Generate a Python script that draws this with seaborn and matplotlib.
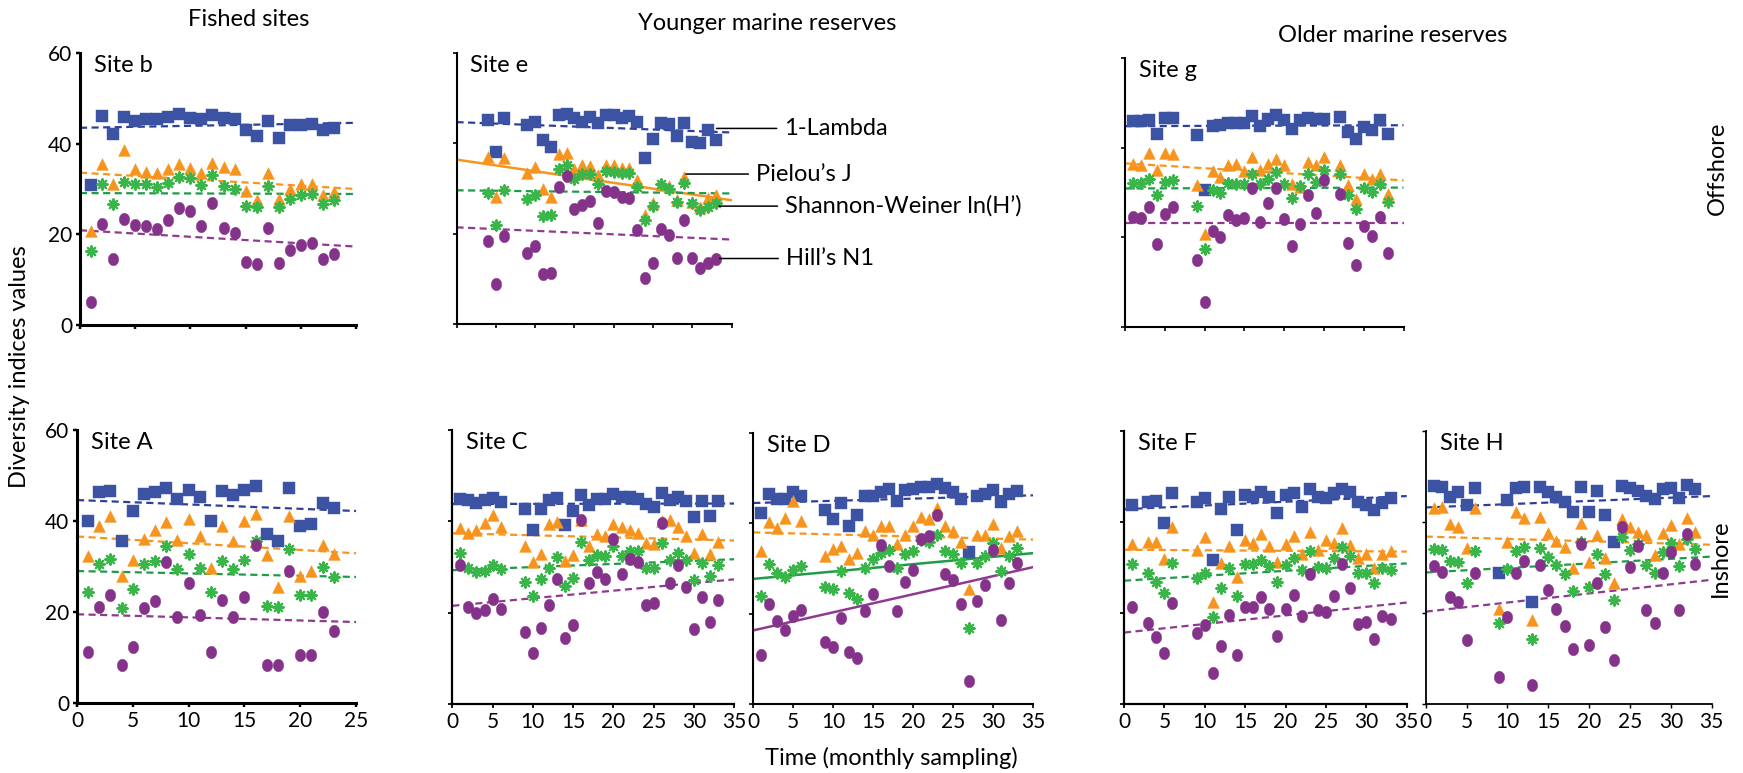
import numpy as np
import matplotlib
matplotlib.use("Agg")
import matplotlib.pyplot as plt
import seaborn as sns
from matplotlib.path import Path

# ---------------- data ----------------
series_names = ["1-Lambda", "Pielou\u2019s J", "Shannon-Weiner ln(H\u2019)", "Hill\u2019s N1"]

# Site b (fished, offshore)
b_x = [1, 2, 3, 4, 5, 6, 7, 8, 9, 10, 11, 12, 13, 14, 15, 16, 17, 18, 19, 20, 21, 22, 23]
b_lambda = [30.8, 46.0, 42.1, 45.9, 45.0, 45.5, 45.4, 45.9, 46.5, 45.7, 45.5, 46.3, 45.7, 45.5, 43.1, 41.6, 45.0, 41.3, 44.1, 44.1, 44.4, 43.1, 43.5]
b_pielou = [20.7, 35.5, 31.0, 38.7, 34.4, 33.8, 33.6, 34.5, 35.6, 34.7, 33.6, 35.8, 34.9, 34.4, 29.5, 27.5, 33.6, 27.9, 29.9, 31.1, 31.2, 28.6, 29.4]
b_shannon = [16.4, 31.1, 26.7, 31.6, 31.1, 31.0, 30.5, 31.4, 32.7, 32.5, 30.8, 33.0, 30.6, 30.1, 26.2, 26.1, 30.7, 26.1, 27.9, 28.6, 28.9, 26.8, 27.5]
b_hill = [5.1, 22.2, 14.5, 23.3, 22.0, 21.9, 21.1, 23.1, 25.9, 25.2, 21.8, 26.9, 21.5, 20.2, 13.9, 13.4, 21.3, 13.6, 16.5, 17.6, 18.0, 14.5, 15.6]

# Site A (fished, inshore)
A_x = [1, 2, 3, 4, 5, 6, 7, 8, 9, 10, 11, 12, 13, 14, 15, 16, 17, 18, 19, 20, 21, 22, 23]
A_lambda = [39.9, 46.3, 46.5, 35.7, 42.1, 46.0, 46.3, 47.3, 44.9, 46.8, 45.2, 39.9, 46.7, 45.7, 46.8, 47.7, 37.1, 35.5, 47.2, 38.8, 39.4, 43.9, 42.9]
A_pielou = [32.2, 38.8, 41.1, 28.0, 31.5, 36.0, 38.0, 39.7, 35.9, 40.4, 36.6, 29.6, 38.8, 35.5, 39.9, 41.6, 32.6, 25.6, 41.1, 28.0, 29.1, 34.8, 32.8]
A_shannon = [24.3, 30.6, 31.6, 20.9, 25.0, 30.6, 31.1, 34.4, 29.4, 32.8, 29.6, 24.3, 31.1, 29.4, 31.5, 35.7, 21.3, 21.0, 33.8, 23.7, 23.7, 30.0, 27.7]
A_hill = [11.3, 21.2, 23.8, 8.3, 12.2, 20.8, 22.5, 30.9, 19.0, 26.3, 19.4, 11.3, 22.7, 19.0, 23.2, 34.7, 8.3, 8.3, 29.1, 10.6, 10.6, 20.1, 15.9]

# Site e (younger reserve, offshore)
e_x = [4, 5, 6, 9, 10, 11, 12, 13, 14, 15, 16, 17, 18, 19, 20, 21, 22, 23, 24, 25, 26, 27, 28, 29, 30, 31, 32, 33]
e_lambda = [45.1, 38.1, 45.7, 44.0, 44.7, 40.8, 39.2, 46.2, 46.4, 45.5, 44.7, 45.8, 44.4, 46.2, 46.2, 45.5, 46.0, 44.7, 36.8, 41.0, 44.5, 44.2, 41.6, 44.5, 40.3, 40.1, 43.0, 40.7]
e_pielou = [37.0, 28.2, 36.8, 33.5, 34.8, 29.8, 28.2, 37.6, 37.9, 34.4, 35.2, 34.9, 32.9, 35.3, 35.3, 34.6, 34.6, 31.8, 24.2, 26.7, 30.7, 30.5, 27.4, 32.6, 27.0, 25.9, 28.0, 28.5]
e_shannon = [29.0, 21.9, 29.6, 27.6, 28.5, 23.9, 24.1, 34.4, 35.2, 32.2, 33.3, 33.3, 31.1, 33.9, 33.7, 33.5, 33.5, 30.4, 23.0, 26.1, 31.0, 30.0, 27.0, 31.2, 26.8, 25.2, 25.9, 26.7]
e_hill = [18.4, 8.8, 19.5, 15.8, 17.2, 11.1, 11.2, 30.4, 32.7, 25.4, 26.3, 27.3, 22.4, 29.5, 29.3, 28.2, 27.8, 20.9, 10.1, 13.6, 21.1, 19.7, 14.7, 23.0, 14.7, 12.3, 13.4, 14.5]

# Site g (older reserve, offshore)
g_x = [1, 2, 3, 4, 5, 6, 9, 10, 11, 12, 13, 14, 15, 16, 17, 18, 19, 20, 21, 22, 23, 24, 25, 27, 28, 29, 30, 31, 32, 33]
g_lambda = [45.9, 45.9, 46.2, 43.0, 46.7, 46.7, 42.8, 30.6, 44.8, 45.0, 45.5, 45.4, 45.4, 47.0, 44.8, 46.5, 47.2, 46.1, 44.2, 46.1, 46.7, 46.5, 46.5, 46.8, 43.5, 42.0, 44.6, 43.9, 46.2, 43.1]
g_pielou = [36.3, 36.1, 38.8, 35.1, 38.7, 38.5, 31.6, 20.8, 34.8, 33.5, 36.1, 36.4, 34.9, 37.9, 35.1, 36.4, 37.5, 36.1, 32.0, 31.2, 36.8, 36.1, 37.9, 36.1, 31.6, 28.5, 34.1, 33.1, 34.2, 29.7]
g_shannon = [32.1, 32.1, 32.9, 29.4, 32.3, 32.7, 26.9, 17.5, 30.5, 29.9, 32.1, 31.8, 32.0, 34.2, 32.0, 33.1, 34.6, 32.0, 28.8, 31.4, 34.1, 32.3, 35.1, 34.1, 29.4, 26.4, 30.9, 30.1, 32.0, 27.9]
g_hill = [24.5, 24.4, 26.8, 18.6, 25.1, 26.8, 14.9, 5.6, 21.4, 20.1, 24.9, 23.9, 24.4, 30.9, 23.4, 27.7, 31.0, 24.2, 18.0, 22.9, 29.4, 25.4, 32.7, 29.6, 18.8, 13.9, 22.5, 20.4, 24.5, 16.4]

# Site C (younger reserve, inshore)
C_x = [1, 2, 3, 4, 5, 6, 9, 10, 11, 12, 13, 14, 15, 16, 17, 18, 19, 20, 21, 22, 23, 24, 25, 26, 27, 28, 29, 30, 31, 32, 33]
C_lambda = [45.0, 44.7, 44.1, 44.7, 45.2, 44.3, 42.8, 38.2, 42.8, 44.7, 45.2, 39.3, 42.3, 45.8, 43.6, 45.0, 44.8, 46.0, 45.4, 45.4, 44.8, 43.8, 43.1, 46.1, 44.7, 45.4, 44.5, 41.0, 44.5, 41.2, 44.5]
C_pielou = [38.6, 37.5, 38.1, 39.7, 41.4, 38.8, 34.6, 31.2, 32.8, 39.4, 39.9, 31.4, 32.6, 40.3, 34.6, 37.2, 36.8, 39.4, 38.7, 38.1, 37.4, 35.3, 35.0, 40.1, 40.4, 38.8, 36.8, 33.0, 37.2, 32.8, 35.5]
C_shannon = [33.0, 29.7, 28.8, 29.1, 30.4, 29.5, 26.8, 23.6, 27.4, 29.7, 32.1, 25.8, 27.7, 35.5, 31.5, 32.6, 32.3, 34.5, 32.3, 33.6, 33.4, 29.7, 29.7, 35.3, 31.5, 33.1, 31.5, 27.2, 30.8, 28.0, 30.4]
C_hill = [30.4, 21.3, 19.9, 20.6, 22.9, 20.9, 15.8, 11.2, 16.7, 21.7, 27.3, 14.4, 17.4, 40.3, 26.4, 29.0, 27.3, 36.1, 28.5, 31.7, 31.2, 21.7, 22.2, 39.7, 26.6, 30.4, 25.7, 16.4, 23.5, 18.0, 22.8]

# Site D (younger reserve, inshore)
D_x = [1, 2, 3, 4, 5, 6, 9, 10, 11, 12, 13, 14, 15, 16, 17, 18, 19, 20, 21, 22, 23, 24, 25, 26, 27, 28, 29, 30, 31, 32, 33]
D_lambda = [42.3, 46.4, 45.4, 45.4, 46.9, 46.0, 43.0, 41.0, 44.5, 39.5, 41.9, 46.0, 46.0, 46.9, 47.6, 44.9, 47.3, 47.5, 48.1, 48.1, 48.6, 47.9, 46.9, 45.3, 33.6, 46.0, 46.6, 47.3, 44.7, 46.6, 47.1]
D_pielou = [33.8, 40.2, 39.0, 41.2, 45.0, 40.5, 32.8, 34.3, 34.9, 32.1, 33.4, 38.2, 37.5, 39.5, 39.3, 35.5, 37.5, 39.3, 41.4, 41.0, 43.4, 39.5, 38.2, 35.8, 25.4, 37.5, 37.5, 39.9, 34.5, 37.3, 38.2]
D_shannon = [24.0, 31.0, 29.0, 28.1, 29.6, 30.5, 26.0, 25.4, 29.4, 24.6, 23.2, 30.1, 32.0, 33.4, 34.2, 30.1, 33.1, 33.8, 36.4, 35.8, 37.5, 33.8, 33.3, 31.2, 16.8, 31.2, 32.8, 35.7, 29.4, 32.8, 34.5]
D_hill = [10.9, 22.2, 18.3, 16.4, 19.5, 20.9, 13.8, 12.7, 19.0, 11.6, 10.1, 20.5, 24.4, 35.1, 30.5, 20.5, 27.1, 29.6, 36.5, 37.1, 41.9, 28.8, 27.5, 22.2, 5.2, 22.9, 26.4, 34.2, 18.6, 26.9, 31.2]

# Site F (older reserve, inshore)
F_x = [1, 3, 4, 5, 6, 9, 10, 11, 12, 13, 14, 15, 16, 17, 18, 19, 20, 21, 22, 23, 24, 25, 26, 27, 28, 29, 30, 31, 32, 33]
F_lambda = [43.7, 44.3, 44.7, 39.7, 46.3, 44.3, 45.2, 31.7, 42.8, 45.6, 38.3, 45.9, 45.6, 46.5, 45.4, 41.9, 45.9, 46.3, 43.2, 47.2, 45.6, 45.2, 46.3, 47.2, 46.7, 44.5, 43.7, 42.6, 44.1, 45.2]
F_pielou = [35.2, 35.5, 35.5, 31.8, 39.0, 33.9, 36.8, 22.5, 30.9, 34.7, 28.0, 36.1, 35.3, 37.4, 34.7, 31.3, 35.2, 36.9, 33.0, 37.9, 33.9, 36.1, 35.3, 38.6, 35.0, 32.0, 33.0, 29.8, 33.0, 33.7]
F_shannon = [30.7, 28.9, 26.9, 24.5, 30.9, 27.7, 28.7, 19.2, 25.5, 29.8, 23.8, 30.8, 30.8, 31.7, 30.4, 26.9, 30.6, 32.0, 29.5, 33.7, 30.2, 29.8, 32.0, 34.5, 32.6, 28.7, 28.9, 26.6, 29.8, 29.5]
F_hill = [21.4, 17.9, 14.8, 11.3, 22.2, 15.7, 17.4, 6.8, 12.7, 19.6, 10.7, 21.4, 21.3, 23.6, 20.8, 15.0, 20.8, 24.0, 19.4, 28.6, 20.6, 20.3, 23.8, 30.8, 25.5, 17.6, 18.1, 14.3, 19.4, 18.7]

# Site H (older reserve, inshore)
H_x = [1, 2, 3, 4, 5, 6, 9, 10, 11, 12, 13, 14, 15, 16, 17, 18, 19, 20, 21, 22, 23, 24, 25, 26, 27, 28, 29, 30, 31, 32, 33]
H_lambda = [47.9, 47.6, 45.6, 46.5, 43.7, 47.4, 28.9, 44.8, 47.4, 47.6, 22.5, 47.6, 46.7, 45.4, 44.3, 42.1, 47.6, 42.1, 46.9, 41.6, 35.7, 47.9, 47.4, 46.9, 45.7, 45.0, 47.2, 47.4, 45.2, 48.1, 47.2]
H_pielou = [43.0, 43.2, 39.6, 39.0, 34.2, 43.0, 20.8, 35.5, 42.3, 40.8, 18.4, 41.0, 37.5, 35.9, 34.6, 29.8, 39.7, 31.3, 37.2, 32.0, 26.6, 40.6, 39.0, 37.9, 37.2, 32.8, 37.5, 39.4, 35.2, 40.8, 37.7]
H_shannon = [34.0, 33.9, 31.5, 31.1, 26.6, 33.7, 17.8, 29.6, 33.7, 34.6, 14.3, 34.2, 32.4, 30.6, 28.6, 24.9, 35.7, 25.8, 33.0, 28.6, 22.9, 36.6, 33.9, 35.2, 30.6, 28.9, 33.5, 35.3, 30.4, 36.2, 34.0]
H_hill = [30.4, 29.1, 23.5, 22.5, 14.0, 28.7, 5.9, 19.1, 28.9, 31.5, 4.2, 30.6, 25.1, 20.8, 17.2, 12.1, 35.2, 13.0, 26.7, 16.9, 9.7, 38.8, 30.1, 34.7, 20.7, 17.9, 28.7, 33.3, 20.6, 37.4, 30.8]

# fitted trend lines: value at x = 0 and at the right end of the axis
b_trend = {"lambda": [43.5, 44.6], "pielou": [33.6, 30.0], "shannon": [29.1, 28.9], "hill": [20.9, 17.3]}
A_trend = {"lambda": [44.6, 42.2], "pielou": [36.6, 32.9], "shannon": [29.0, 27.7], "hill": [19.5, 17.8]}
e_trend = {"lambda": [44.7, 42.4], "pielou": [36.4, 27.4], "shannon": [29.6, 28.9], "hill": [21.4, 18.7]}
g_trend = {"lambda": [44.8, 45.0], "pielou": [36.5, 32.7], "shannon": [30.9, 31.1], "hill": [23.2, 23.2]}
C_trend = {"lambda": [43.8, 43.9], "pielou": [37.4, 35.8], "shannon": [29.3, 31.7], "hill": [21.5, 27.3]}
D_trend = {"lambda": [44.5, 46.2], "pielou": [38.0, 36.4], "shannon": [27.7, 33.4], "hill": [16.3, 30.3]}
F_trend = {"lambda": [42.8, 45.7], "pielou": [33.9, 33.5], "shannon": [27.1, 30.9], "hill": [15.7, 22.3]}
H_trend = {"lambda": [43.2, 45.7], "pielou": [36.8, 35.0], "shannon": [28.9, 32.4], "hill": [20.3, 27.3]}

# significant (solid) trends
solid_trends = {("Site e", "pielou"), ("Site D", "shannon"), ("Site D", "hill")}

# ---------------- style ----------------
sns.set_theme(style="white")
plt.rcParams["font.family"] = ["Lato", "DejaVu Sans"]
plt.rcParams["text.color"] = "black"

FS = 17      # text size
TFS = 15     # tick label size

BLUE = "#3C53A4"
ORANGE = "#F7941D"
GREEN = "#3AB54A"
PURPLE = "#85338A"
LINE_COL = {"lambda": "#2E3F9A", "pielou": "#F7941D", "shannon": "#1E9B48", "hill": "#8E3A91"}

# slightly tall ellipse for Hill's N1
t = np.linspace(0, 2 * np.pi, 40)
ELLIPSE = Path(np.column_stack([0.84 * np.cos(t), np.sin(t)]), closed=True)

W, H = 1743, 773
fig = plt.figure(figsize=(W / 100, H / 100), dpi=100)


def rect(x0, x1, y0, y1):
    return [x0 / W, 1 - y1 / H, (x1 - x0) / W, (y1 - y0) / H]


panels = [
    ("Site b", rect(80, 356, 53, 325), b_x, b_lambda, b_pielou, b_shannon, b_hill, b_trend, 25, True, False, 2.2),
    ("Site e", rect(456.5, 731.5, 53, 324), e_x, e_lambda, e_pielou, e_shannon, e_hill, e_trend, 35, False, False, 1.5),
    ("Site g", rect(1125, 1403.5, 58, 327), g_x, g_lambda, g_pielou, g_shannon, g_hill, g_trend, 35, False, False, 1.5),
    ("Site A", rect(77, 356, 430, 703), A_x, A_lambda, A_pielou, A_shannon, A_hill, A_trend, 25, True, True, 2.2),
    ("Site C", rect(452.3, 734.3, 430, 704), C_x, C_lambda, C_pielou, C_shannon, C_hill, C_trend, 35, False, True, 1.6),
    ("Site D", rect(753.3, 1033, 433, 704), D_x, D_lambda, D_pielou, D_shannon, D_hill, D_trend, 35, False, True, 1.5),
    ("Site F", rect(1124, 1406.7, 431, 704), F_x, F_lambda, F_pielou, F_shannon, F_hill, F_trend, 35, False, True, 1.6),
    ("Site H", rect(1425.7, 1711.7, 431, 704), H_x, H_lambda, H_pielou, H_shannon, H_hill, H_trend, 35, False, True, 1.3),
]

axes = {}
for name, r, xs, lam, pie, sha, hil, trend, xmax, ylab, xlab, lw in panels:
    ax = fig.add_axes(r)
    axes[name] = ax
    # trend lines
    for key in ["lambda", "pielou", "shannon", "hill"]:
        solid = (name, key) in solid_trends
        sns.lineplot(x=[0, xmax], y=trend[key], ax=ax, color=LINE_COL[key],
                     linewidth=1.8 if solid else 1.6,
                     linestyle="-" if solid else (0, (3.2, 2.0)), zorder=2)
    # points
    sns.scatterplot(x=xs, y=lam, ax=ax, marker="s", s=66, color=BLUE,
                    edgecolor=BLUE, linewidth=0.3, zorder=3, clip_on=False, legend=False)
    sns.scatterplot(x=xs, y=pie, ax=ax, marker="^", s=72, color=ORANGE,
                    edgecolor=ORANGE, linewidth=0.3, zorder=4, clip_on=False, legend=False)
    sns.scatterplot(x=xs, y=sha, ax=ax, marker=(8, 2, 0), s=55, color=GREEN,
                    edgecolor=GREEN, linewidth=1.6, zorder=5, clip_on=False, legend=False)
    sns.scatterplot(x=xs, y=hil, ax=ax, marker=ELLIPSE, s=80, color=PURPLE,
                    edgecolor=PURPLE, linewidth=0.3, zorder=6, clip_on=False, legend=False)

    ax.set_xlim(0, xmax)
    ax.set_ylim(0, 60)
    ax.set_xlabel("")
    ax.set_ylabel("")
    for sp in ["top", "right"]:
        ax.spines[sp].set_visible(False)
    for sp in ["left", "bottom"]:
        ax.spines[sp].set_color("black")
        ax.spines[sp].set_linewidth(lw)
    ax.set_xticks(list(range(0, xmax + 1, 5)))
    ax.set_yticks([0, 20, 40, 60])
    if not xlab:
        ax.set_xticklabels([])
    if not ylab:
        ax.set_yticklabels([])
    ax.tick_params(axis="both", direction="out", length=3, width=lw * 0.8,
                   labelsize=TFS, pad=2.5, colors="black", bottom=True, left=True)
    ax.set_facecolor("none")
    ax.text(0.05, 0.955, name, transform=ax.transAxes, fontsize=FS,
            ha="left", va="center")

# series labels in Site e
ax = axes["Site e"]
ann = [
    (series_names[0], (33.1, 43.3), (41.7, 43.3)),
    (series_names[1], (29.2, 33.2), (38.1, 33.2)),
    (series_names[2], (33.4, 26.1), (41.8, 26.1)),
    (series_names[3], (33.5, 14.5), (41.9, 14.5)),
]
for label, xy, xyt in ann:
    ax.annotate(label, xy=xy, xytext=xyt, textcoords="data", fontsize=FS,
                ha="left", va="center", annotation_clip=False, zorder=7,
                arrowprops=dict(arrowstyle="-", color="black", lw=1.1,
                                shrinkA=3, shrinkB=0, relpos=(0, 0.5)))

# group titles and axis titles
fig.text(249 / W, 1 - 20 / H, "Fished sites", ha="center", va="center", fontsize=FS)
fig.text(767 / W, 1 - 23 / H, "Younger marine reserves", ha="center", va="center", fontsize=FS)
fig.text(1393 / W, 1 - 35 / H, "Older marine reserves", ha="center", va="center", fontsize=FS)
fig.text(1717 / W, 1 - 168 / H, "Offshore", ha="center", va="center", rotation=90, fontsize=FS)
fig.text(1720 / W, 1 - 558 / H, "Inshore", ha="center", va="center", rotation=90, fontsize=FS)
fig.text(20 / W, 1 - 367 / H, "Diversity indices values", ha="center", va="center", rotation=90, fontsize=FS)
fig.text(891 / W, 1 - 758 / H, "Time (monthly sampling)", ha="center", va="center", fontsize=FS)

fig.savefig("out.png", dpi=100, facecolor="white")
